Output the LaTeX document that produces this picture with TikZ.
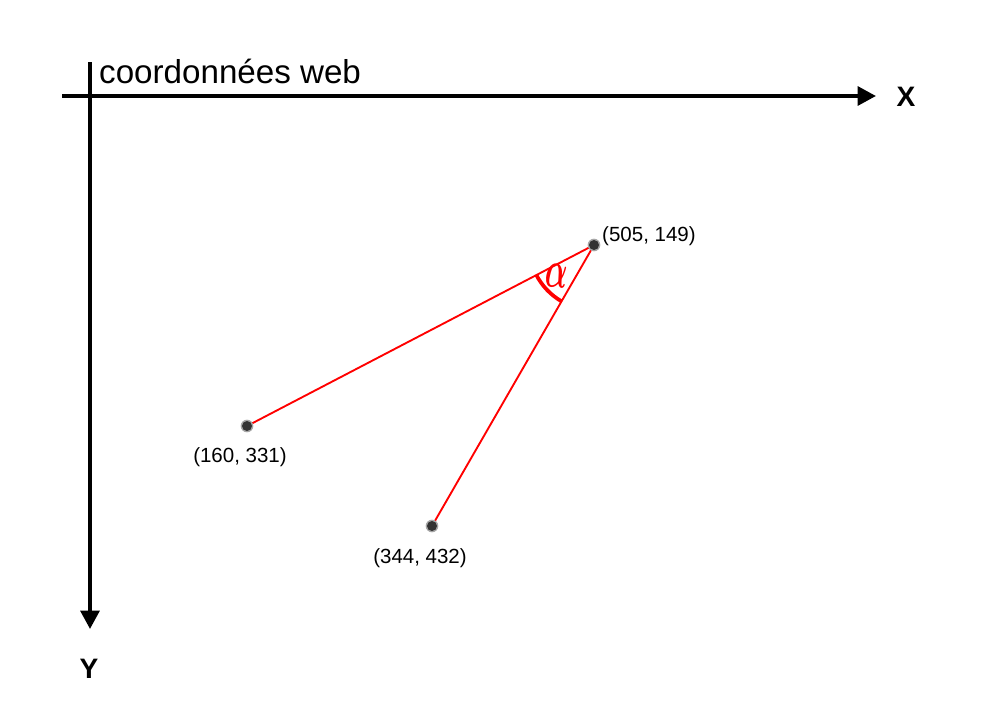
\documentclass[tikz,border=0pt]{standalone}
\usepackage{fontspec}
\setmainfont{Liberation Sans}
\usepackage{bm}
\usetikzlibrary{arrows.meta}
\begin{document}
\begin{tikzpicture}[x=0.03cm,y=-0.03cm,
  axis/.style={line width=3.4pt,-{Triangle[length=0.55cm,width=0.56cm]}},
  seg/.style={red,line width=1.6pt},
  pt/.style={circle,fill=black!80,inner sep=0pt,minimum size=0.3cm},
  halo/.style={circle,fill=black!35,inner sep=0pt,minimum size=0.38cm},
  coordlabel/.style={font=\fontsize{17.5}{20}\selectfont,inner sep=0pt},
  axlabel/.style={font=\fontsize{24}{28}\selectfont\bfseries,inner sep=0pt}]
\useasboundingbox[fill=white] (0,0) rectangle (993,723);
% axes
\coordinate (ox) at (62,96);
\coordinate (xe) at (876,96);
\coordinate (oy) at (90,62);
\coordinate (ye) at (90,629);
\draw[axis] (ox) -- (xe);
\draw[axis] (oy) -- (ye);
\node[axlabel] (xl) at (906,97) {X};
\node[axlabel] (yl) at (89,669) {Y};
\node[anchor=base west,inner sep=0pt,font=\fontsize{28.3}{32}\selectfont] (title) at (99,83) {coordonnées web};
% points
\coordinate (pa) at (594,245);
\coordinate (pb) at (247,426);
\coordinate (pc) at (432,526);
\draw[seg] (pa) -- (pb);
\draw[seg] (pa) -- (pc);
\node[halo] at (pa) {};
\node[halo] at (pb) {};
\node[halo] at (pc) {};
\node[pt] (a) at (pa) {};
\node[pt] (b) at (pb) {};
\node[pt] (c) at (pc) {};
% angle arc
\draw[red,line width=3.2pt] (pa) ++(207.5:65*0.03cm) arc[start angle=207.5,end angle=240,radius=1.95cm];
\node[red,font=\fontsize{26}{28}\selectfont,inner sep=0pt,rotate=-5] (alpha) at (557,276) {\scalebox{1}[1.8]{$\bm{\alpha}$}};
% labels
\node[coordlabel,anchor=west] (la) at (602,236) {(505, 149)};
\node[coordlabel] (lb) at (240,457) {(160, 331)};
\node[coordlabel] (lc) at (420,558) {(344, 432)};
\end{tikzpicture}
\end{document}
